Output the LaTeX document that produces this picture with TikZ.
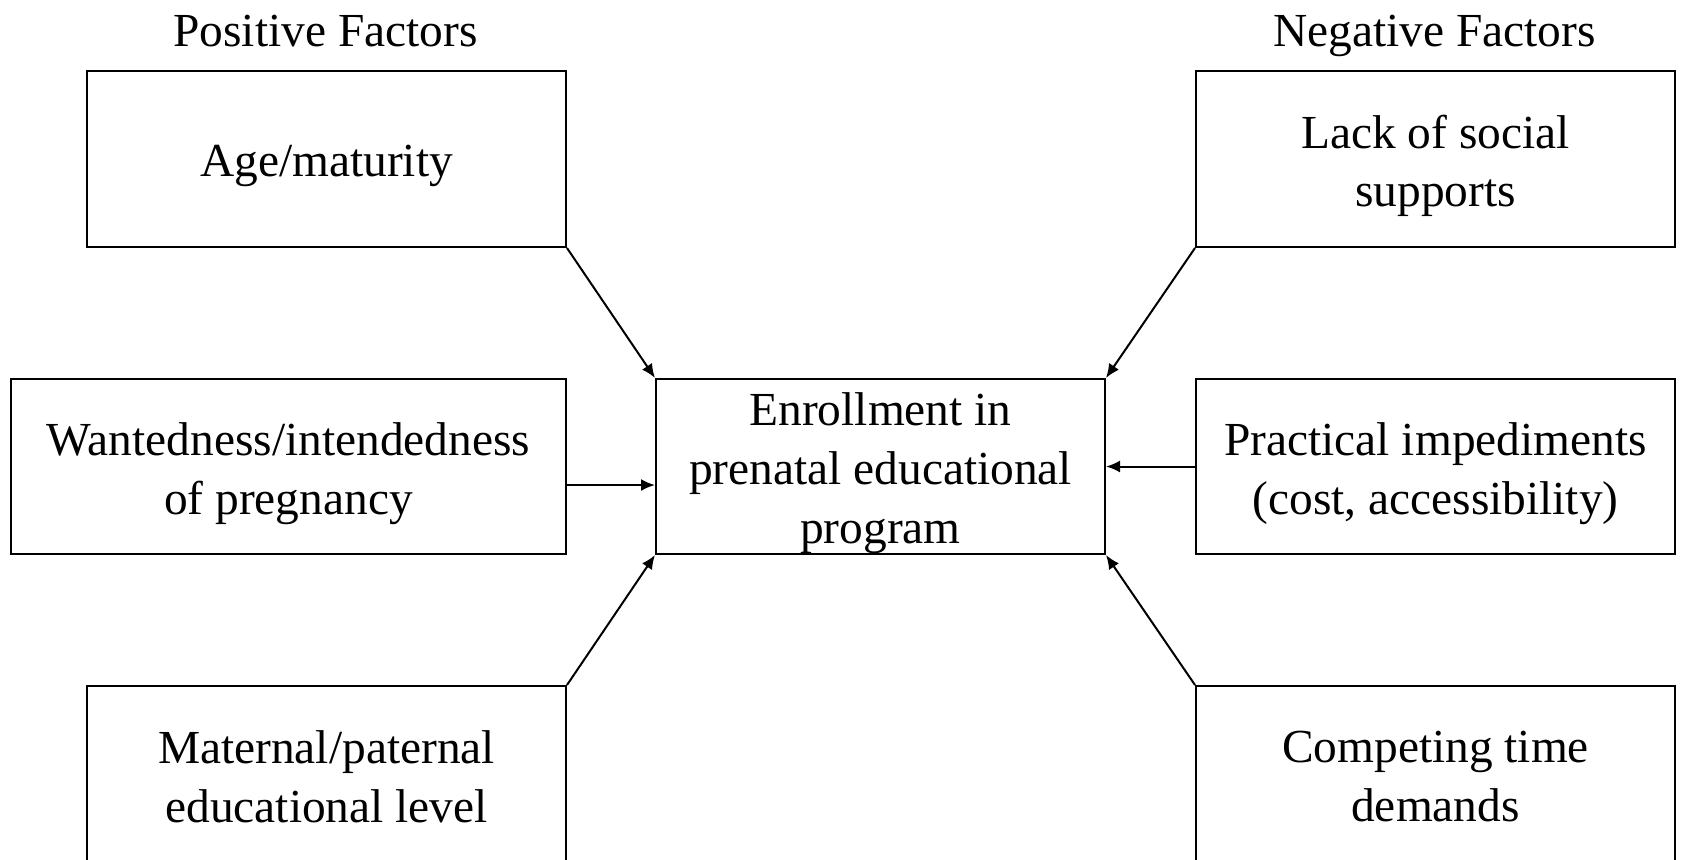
\documentclass[tikz,border=0pt]{standalone}
\usepackage{fontspec}
\setmainfont{Liberation Serif}
\usetikzlibrary{arrows.meta}
\begin{document}
\begin{tikzpicture}[x=0.5pt,y=-0.5pt,
  txt/.style={font=\fontsize{23.7}{29.4}\selectfont},
  box/.style={draw, line width=1pt, inner sep=0pt, anchor=north west},
  side/.style={box, minimum width=239.5pt, minimum height=88pt},
  inside/.style={txt, inner sep=0pt, align=center},
  conn/.style={line width=1pt, -{Latex[length=7pt,width=6pt]}},
  lbl/.style={txt, inner sep=0pt, anchor=base}]
\useasboundingbox (0,0) rectangle (1705,859);
\clip (0,0) rectangle (1705,859);
\fill[white] (0,0) rectangle (1705,859);

\node[lbl] (pos) at (325.5,46) {Positive Factors};
\node[lbl] (neg) at (1434.5,46) {Negative Factors};

\node[side] (tl) at (86,70) {};
\node[box, minimum width=277.5pt, minimum height=87.5pt] (ml) at (10,378) {};
\node[side] (bl) at (86,685) {};
\node[box, minimum width=224.5pt, minimum height=87.5pt] (c) at (655,378) {};
\node[side] (tr) at (1195,70) {};
\node[box, minimum width=239.5pt, minimum height=87.5pt] (mr) at (1195,378) {};
\node[side] (br) at (1195,685) {};

\node[inside] (tlt) at ([yshift=-3.4pt]tl.center) {Age/maturity};
\node[inside] (mlt) at ([yshift=-3.4pt]ml.center) {Wantedness/intendedness\\of pregnancy};
\node[inside] (blt) at ([yshift=-1.2pt]bl.center) {Maternal/paternal\\educational level};
\node[inside] (ct) at ([yshift=-3.4pt]c.center) {Enrollment in\\prenatal educational\\program};
\node[inside] (trt) at ([yshift=-3.4pt]tr.center) {Lack of social\\supports};
\node[inside] (mrt) at ([yshift=-3.4pt]mr.center) {Practical impediments\\(cost, accessibility)};
\node[inside] (brt) at ([yshift=-1.2pt]br.center) {Competing time\\demands};

\draw[conn] (tl.south east) -- (c.north west);
\draw[conn] ([yshift=-9.25pt]ml.east) -- ([yshift=-9.25pt]c.west);
\draw[conn] (bl.north east) -- (c.south west);
\draw[conn] (tr.south west) -- (c.north east);
\draw[conn] (mr.west) -- (c.east);
\draw[conn] (br.north west) -- (c.south east);
\end{tikzpicture}
\end{document}
